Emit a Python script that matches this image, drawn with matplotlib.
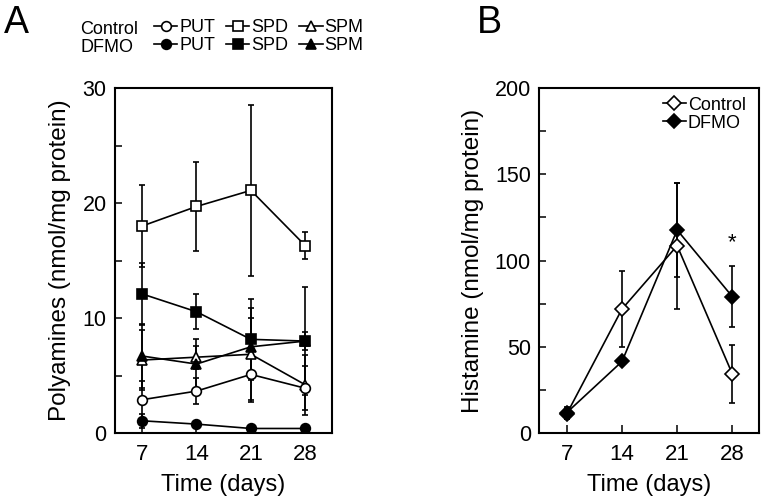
import matplotlib
matplotlib.use("Agg")
import matplotlib.pyplot as plt
from matplotlib.lines import Line2D
from matplotlib.ticker import MultipleLocator

plt.rcParams['font.family'] = ['Liberation Sans', 'DejaVu Sans']

# shared x axis (days)
days = [7, 14, 21, 28]

# panel A: polyamines (nmol/mg protein), mean and SD
ctrl_put = [2.9, 3.65, 5.1, 3.9]
ctrl_put_sd = [1.6, 1.1, 2.4, 1.9]
ctrl_spd = [18.0, 19.7, 21.1, 16.3]
ctrl_spd_sd = [3.6, 3.9, 7.4, 1.15]
ctrl_spm = [6.35, 6.6, 6.85, 4.2]
ctrl_spm_sd = [2.6, 1.0, 4.0, 2.6]
dfmo_put = [1.07, 0.78, 0.4, 0.4]
dfmo_put_sd = [0.6, 0.3, 0.2, 0.2]
dfmo_spd = [12.1, 10.55, 8.15, 8.0]
dfmo_spd_sd = [2.7, 1.5, 3.5, 4.7]
dfmo_spm = [6.7, 6.0, 7.5, 8.0]
dfmo_spm_sd = [2.8, 2.2, 2.5, 0.8]

# panel B: histamine (nmol/mg protein), mean and SD
ctrl_his = [11.2, 71.9, 108.6, 34.3]
ctrl_his_sd = [3.0, 22.0, 36.5, 17.0]
dfmo_his = [11.9, 41.5, 117.7, 79.1]
dfmo_his_sd = [3.5, 2.0, 27.5, 17.7]
star_day = 28
star_y = 104

LW = 1.2
fig = plt.figure(figsize=(7.66, 5.03), dpi=100)
axA = fig.add_axes([0.150, 0.139, 0.283, 0.686])
axB = fig.add_axes([0.704, 0.139, 0.287, 0.686])


def series(ax, y, sd, marker, filled, ms):
    ax.errorbar(days, y, yerr=sd, color='black', lw=LW, elinewidth=LW,
                capsize=2.5, capthick=LW, marker=marker, ms=ms,
                mfc='black' if filled else 'white', mec='black', mew=1.2)


def style(ax):
    for s in ax.spines.values():
        s.set_linewidth(1.5)
    ax.tick_params(direction='in', width=1.1, length=5, labelsize=15.5, pad=6)
    ax.tick_params(which='minor', direction='in', width=1.1, length=5)
    ax.tick_params(axis='x', length=6, pad=8, labelsize=16)
    ax.set_xticks(days)
    ax.set_xlim(3.5, 31.4)
    ax.set_xlabel("Time (days)", fontsize=17, labelpad=6)


# panel A
series(axA, ctrl_spd, ctrl_spd_sd, 's', False, 7)
series(axA, dfmo_spd, dfmo_spd_sd, 's', True, 7)
series(axA, ctrl_spm, ctrl_spm_sd, '^', False, 7.5)
series(axA, dfmo_spm, dfmo_spm_sd, '^', True, 7.5)
series(axA, ctrl_put, ctrl_put_sd, 'o', False, 7)
series(axA, dfmo_put, dfmo_put_sd, 'o', True, 7)
axA.set_ylim(0, 30)
axA.yaxis.set_major_locator(MultipleLocator(10))
axA.yaxis.set_minor_locator(MultipleLocator(5))
style(axA)
axA.set_ylabel("Polyamines (nmol/mg protein)", fontsize=17.5, labelpad=8)

# panel A legend: Control / DFMO rows
fig.text(80 / 766, 1 - 29 / 503, "Control", fontsize=13, va='center', ha='left')
fig.text(80 / 766, 1 - 47.5 / 503, "DFMO", fontsize=13, va='center', ha='left')


def handle(marker, filled, ms):
    return Line2D([], [], color='black', lw=LW, marker=marker, ms=ms,
                  mfc='black' if filled else 'white', mec='black', mew=1.2)


hA = [handle('o', False, 7), handle('o', True, 7),
      handle('s', False, 7), handle('s', True, 7),
      handle('^', False, 7.5), handle('^', True, 7.5)]
lA = ['PUT', 'PUT', 'SPD', 'SPD', 'SPM', 'SPM']
fig.legend(hA, lA, loc='upper left', bbox_to_anchor=(154 / 766, 1 - 19 / 503),
           ncol=3, frameon=False, fontsize=13, handlelength=1.3,
           handletextpad=0.1, columnspacing=0.6, labelspacing=0.05,
           borderpad=0, borderaxespad=0)

# panel B
series(axB, ctrl_his, ctrl_his_sd, 'D', False, 7)
series(axB, dfmo_his, dfmo_his_sd, 'D', True, 7)
axB.text(star_day, star_y, "*", fontsize=16, ha='center', va='bottom')
axB.set_ylim(0, 200)
axB.yaxis.set_major_locator(MultipleLocator(50))
axB.yaxis.set_minor_locator(MultipleLocator(25))
style(axB)
axB.set_ylabel("Histamine (nmol/mg protein)", fontsize=17.5, labelpad=8)
axB.legend([handle('D', False, 7), handle('D', True, 7)], ["Control", "DFMO"],
           loc='upper right', bbox_to_anchor=(0.94, 0.975), frameon=False,
           fontsize=13, handlelength=1.3, handletextpad=0.1,
           labelspacing=0.05, borderpad=0, borderaxespad=0)

fig.text(4 / 766, 1 - 33 / 503, "A", fontsize=27, va='baseline', ha='left')
fig.text(477 / 766, 1 - 33 / 503, "B", fontsize=27, va='baseline', ha='left')

fig.savefig("out.png", dpi=100)
